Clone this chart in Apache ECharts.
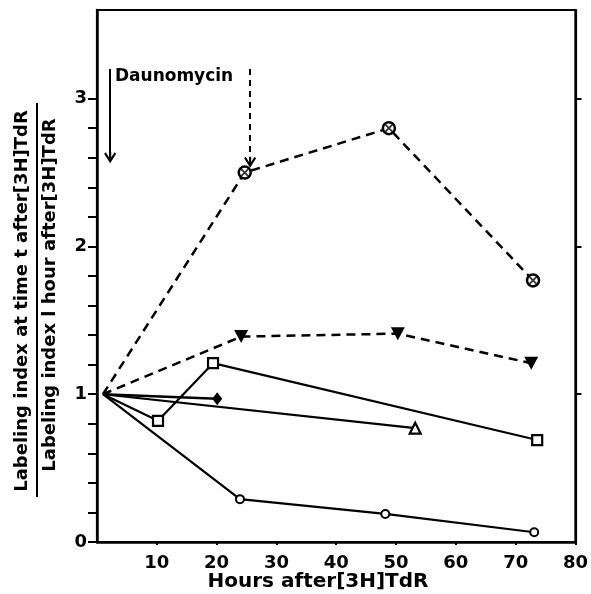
<!DOCTYPE html>
<html>
<head>
<meta charset="utf-8">
<script src="https://cdn.jsdelivr.net/npm/echarts@6/dist/echarts.min.js"></script>
<style>
  html, body { margin: 0; padding: 0; background: #fff; }
  #chart { width: 591px; height: 594px; }
</style>
</head>
<body>
<div id="chart"></div>
<script>
// Hours after [3H]TdR and relative labeling index for each group
const hoursCross = [1, 24.7, 48.8, 72.9];
const indexCross = [1, 2.50, 2.80, 1.77];

const hoursTriDown = [1, 24.1, 50.3, 72.6];
const indexTriDown = [1, 1.39, 1.41, 1.21];

const hoursSquare = [1, 10.2, 19.4, 73.6];
const indexSquare = [1, 0.82, 1.21, 0.69];

const hoursDiamond = [1, 20.1];
const indexDiamond = [1, 0.97];

const hoursTriUp = [1, 53.2];
const indexTriUp = [1, 0.77];

const hoursCircle = [1, 23.9, 48.2, 73.1];
const indexCircle = [1, 0.29, 0.19, 0.066];

// Axis ticks and labels
const xTickValues = [10, 20, 30, 40, 50, 60, 70, 80];
const yTickValues = [0, 0.2, 0.4, 0.6, 0.8, 1, 1.2, 1.4, 1.6, 1.8, 2, 2.2, 2.4, 2.6, 2.8, 3];
const yLabelValues = [0, 1, 2, 3];
const yRightTickValues = [1, 2, 3];

// Daunomycin administration arrows (hours, top, tip)
const arrowHours = [2.2, 25.6];
const arrowTop = [3.2, 3.2];
const arrowTip = [2.6, 2.57];
const arrowText = 'Daunomycin';

const FONT = '"DejaVu Sans", sans-serif';
const INK = '#000';

function points(xs, ys) {
  // first point is the common 1-hour reference and carries no symbol
  return xs.map((x, i) => i === 0 ? { value: [x, ys[i]], symbol: 'none' } : [x, ys[i]]);
}

// open arrow head with a short stem running to the tip
const chevron = 'path://M5,0 L10,8 L8.7,9.3 L5.9,4.8 L5.9,9.3 L4.1,9.3 L4.1,4.8 L1.3,9.3 L0,8 Z';

const chart = echarts.init(document.getElementById('chart'), null, { renderer: 'canvas' });

const option = {
  animation: false,
  backgroundColor: '#fff',
  grid: {
    left: 97, right: 14, top: 10, bottom: 52,
    show: true, borderColor: INK, borderWidth: 2.2, backgroundColor: 'transparent'
  },
  xAxis: {
    type: 'value', min: 0, max: 80, interval: 10,
    axisLine: { lineStyle: { color: INK, width: 2.5 } },
    axisTick: { show: true, inside: false, length: 3, customValues: xTickValues, lineStyle: { color: INK, width: 2 } },
    axisLabel: { customValues: xTickValues, margin: 12, color: INK, fontFamily: FONT, fontWeight: 'bold', fontSize: 18 },
    splitLine: { show: false }
  },
  yAxis: [
    {
      type: 'value', min: 0, max: 3.6, position: 'left',
      axisLine: { show: true, lineStyle: { color: INK, width: 2.5 } },
      axisTick: { show: true, inside: false, length: 9, customValues: yTickValues, lineStyle: { color: INK, width: 2 } },
      axisLabel: { customValues: yLabelValues, margin: 10, color: INK, fontFamily: FONT, fontWeight: 'bold', fontSize: 18 },
      splitLine: { show: false }
    },
    {
      type: 'value', min: 0, max: 3.6, position: 'right',
      axisLine: { show: true, lineStyle: { color: INK, width: 2.2 } },
      axisTick: { show: true, inside: false, length: 6, customValues: yRightTickValues, lineStyle: { color: INK, width: 2 } },
      axisLabel: { show: false },
      splitLine: { show: false }
    }
  ],
  series: [
    {
      name: 'cross', type: 'line', z: 3,
      data: points(hoursCross, indexCross),
      symbol: 'circle', symbolSize: 12,
      itemStyle: { color: '#fff', borderColor: INK, borderWidth: 2.5 },
      lineStyle: { color: INK, width: 2.5, type: [9, 6] }
    },
    {
      name: 'cross-mark', type: 'scatter', z: 4,
      data: points(hoursCross, indexCross),
      symbol: 'path://M0,0L10,10M10,0L0,10', symbolSize: 7,
      itemStyle: { color: 'none', borderColor: INK, borderWidth: 1.8 }
    },
    {
      name: 'triDown', type: 'line', z: 3,
      data: points(hoursTriDown, indexTriDown),
      symbol: 'triangle', symbolRotate: 180, symbolSize: [14, 13],
      itemStyle: { color: INK, borderColor: INK, borderWidth: 0 },
      lineStyle: { color: INK, width: 2.5, type: [9, 6] }
    },
    {
      name: 'square', type: 'line', z: 3,
      data: points(hoursSquare, indexSquare),
      symbol: 'rect', symbolSize: 10,
      itemStyle: { color: '#fff', borderColor: INK, borderWidth: 2.2 },
      lineStyle: { color: INK, width: 2.2 }
    },
    {
      name: 'diamond', type: 'line', z: 3,
      data: points(hoursDiamond, indexDiamond),
      symbol: 'diamond', symbolSize: [10, 13],
      itemStyle: { color: INK, borderColor: INK, borderWidth: 0 },
      lineStyle: { color: INK, width: 2.5 }
    },
    {
      name: 'triUp', type: 'line', z: 3,
      data: points(hoursTriUp, indexTriUp),
      symbol: 'triangle', symbolSize: [11, 11],
      itemStyle: { color: '#fff', borderColor: INK, borderWidth: 2.2 },
      lineStyle: { color: INK, width: 2.2 }
    },
    {
      name: 'circle', type: 'line', z: 3,
      data: points(hoursCircle, indexCircle),
      symbol: 'circle', symbolSize: 8,
      itemStyle: { color: '#fff', borderColor: INK, borderWidth: 2 },
      lineStyle: { color: INK, width: 2.2 }
    },
    {
      name: 'arrows', type: 'line', data: [],
      markLine: {
        silent: true,
        symbol: ['none', chevron],
        symbolSize: [12, 11],
        label: { show: false },
        lineStyle: { color: INK, width: 2 },
        data: arrowHours.map((h, i) => [
          { coord: [h, arrowTop[i]], lineStyle: { color: INK, width: 2, type: i === 0 ? 'solid' : [6, 5] } },
          { coord: [h, arrowTip[i]] }
        ])
      }
    }
  ]
};

chart.setOption(option);

const textPos = chart.convertToPixel({ gridIndex: 0 }, [arrowHours[0] + 0.8, arrowTop[0] - 0.05]);

chart.setOption({
  graphic: [
    {
      type: 'text', x: textPos[0], y: textPos[1],
      style: { text: arrowText, fill: INK, font: 'bold 17px ' + FONT, textAlign: 'left', textVerticalAlign: 'middle' }
    },
    {
      type: 'text', x: 318, y: 582,
      style: { text: 'Hours after[3H]TdR', fill: INK, font: 'bold 20px ' + FONT, textAlign: 'center', textVerticalAlign: 'middle' }
    },
    {
      type: 'text', x: 22, y: 301, rotation: Math.PI / 2,
      style: { text: 'Labeling index at time t after[3H]TdR', fill: INK, font: 'bold 18px ' + FONT, textAlign: 'center', textVerticalAlign: 'middle' }
    },
    {
      type: 'line', shape: { x1: 37, y1: 103, x2: 37, y2: 497 },
      style: { stroke: INK, lineWidth: 2 }
    },
    {
      type: 'text', x: 50, y: 295, rotation: Math.PI / 2,
      style: { text: 'Labeling index l hour after[3H]TdR', fill: INK, font: 'bold 18px ' + FONT, textAlign: 'center', textVerticalAlign: 'middle' }
    }
  ]
});
</script>
</body>
</html>
